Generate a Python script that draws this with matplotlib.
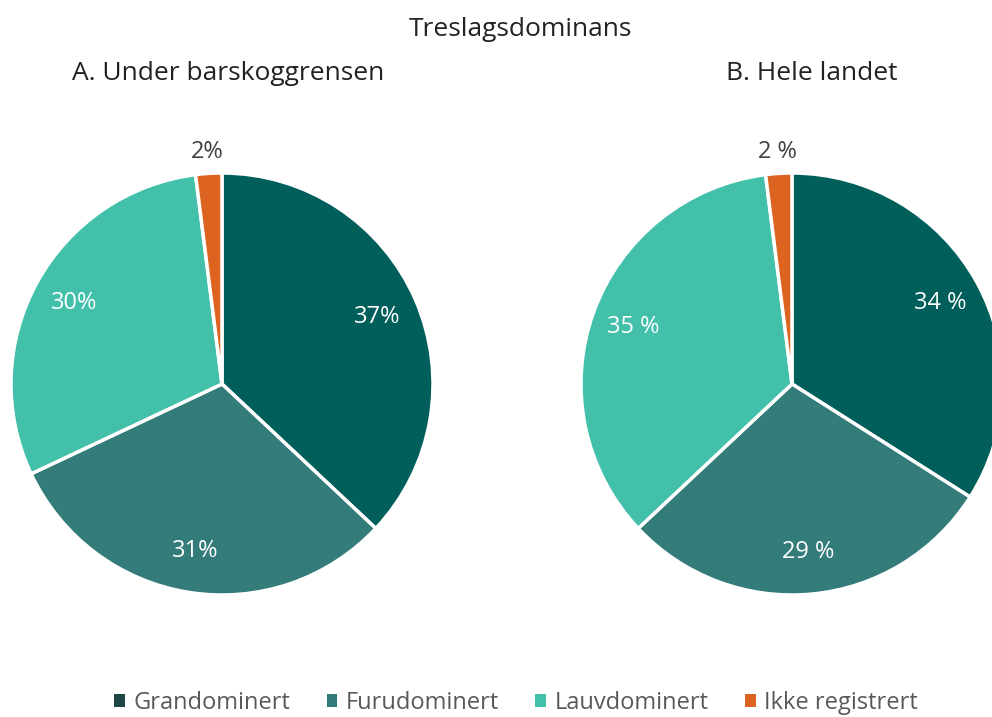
import matplotlib.pyplot as plt
import numpy as np
from matplotlib.patches import Patch

plt.rcParams['font.family'] = ['Open Sans', 'DejaVu Sans']

categories = ['Grandominert', 'Furudominert', 'Lauvdominert', 'Ikke registrert']
colors = ['#005e5b', '#347c7a', '#42c0aa', '#dd6420']
legend_colors = ['#1e4644', '#347c7a', '#42c0aa', '#dd6420']

under_barskog = [37, 31, 30, 2]
under_labels = ['37%', '31%', '30%', '2%']
hele_landet = [34, 29, 35, 2]
hele_labels = ['34 %', '29 %', '35 %', '2 %']

W, H = 992, 717
fig = plt.figure(figsize=(W / 100, H / 100), dpi=100)


def draw_pie(cx, cy, r, values, labels):
    ax = fig.add_axes([(cx - r) / W, (H - cy - r) / H, 2 * r / W, 2 * r / H])
    wedges, _ = ax.pie(values, colors=colors, startangle=90, counterclock=False,
                       wedgeprops=dict(edgecolor='white', linewidth=2.5))
    ax.set_xlim(-1, 1)
    ax.set_ylim(-1, 1)
    ax.set_aspect('equal')
    for w, lab, v in zip(wedges, labels, values):
        mid = np.deg2rad((w.theta1 + w.theta2) / 2)
        if v < 5:
            d, col = 1.1, '#404040'
        else:
            d, col = 0.8, 'white'
        ax.text(d * np.cos(mid), d * np.sin(mid), lab, ha='center', va='center',
                fontsize=17, color=col)
    ax.set_axis_off()
    return ax


draw_pie(222, 384, 211, under_barskog, under_labels)
draw_pie(792, 384, 211, hele_landet, hele_labels)

fig.text(520 / W, 1 - 29 / H, 'Treslagsdominans', ha='center', va='center',
         fontsize=19, color='#222222')
fig.text(228 / W, 1 - 73 / H, 'A. Under barskoggrensen', ha='center', va='center',
         fontsize=19, color='#222222')
fig.text(812 / W, 1 - 73 / H, 'B. Hele landet', ha='center', va='center',
         fontsize=19, color='#222222')

handles = [Patch(facecolor=c, edgecolor='none') for c in legend_colors]
fig.legend(handles, categories, loc='center', ncol=4, frameon=False,
           bbox_to_anchor=(516 / W, 1 - 703 / H),
           handlelength=0.45, handleheight=0.45, handletextpad=0.35, columnspacing=1.55,
           labelcolor='#595959',
           prop={'family': ['Open Sans'], 'size': 17})

fig.savefig('out.png', dpi=100)
